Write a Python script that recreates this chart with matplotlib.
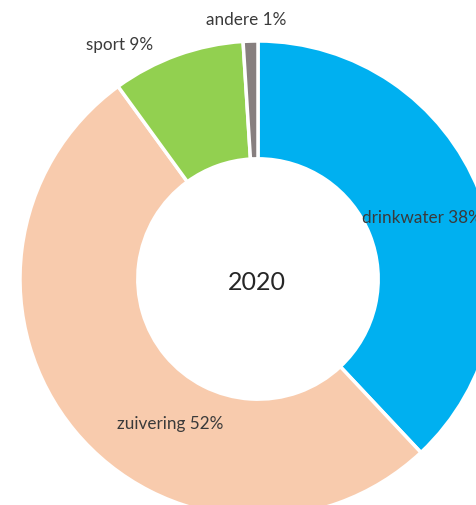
import matplotlib.pyplot as plt

categories = ["drinkwater", "zuivering", "sport", "andere"]
shares = [38, 52, 9, 1]
colors = ["#00B0F0", "#F8CBAD", "#92D050", "#877F7F"]
year = "2020"

# label positions in pixels (x, y from top)
label_pos = [(362, 218), (117, 424), (86, 45), (206, 20)]

W, H = 477, 506
fig = plt.figure(figsize=(W / 100, H / 100), dpi=100)
ax = fig.add_axes([0, 0, 1, 1])

cx, cy, r = 258, H - 280, 238
ax.pie(shares, colors=colors, startangle=90, counterclock=False,
       center=(cx, cy), radius=r, frame=True,
       wedgeprops=dict(width=r * 0.495, edgecolor="white", linewidth=2.5))
ax.set_xlim(0, W)
ax.set_ylim(0, H)
ax.set_aspect("equal")
ax.axis("off")

for name, val, (x, y) in zip(categories, shares, label_pos):
    ax.text(x, H - y, f"{name} {val}%", fontsize=12.3, color="#3a3a3a",
            family="Lato", ha="left", va="center")

ax.text(257, H - 283, year, fontsize=18, color="#262626", family="Lato",
        ha="center", va="center")

fig.savefig("out.png", dpi=100)
